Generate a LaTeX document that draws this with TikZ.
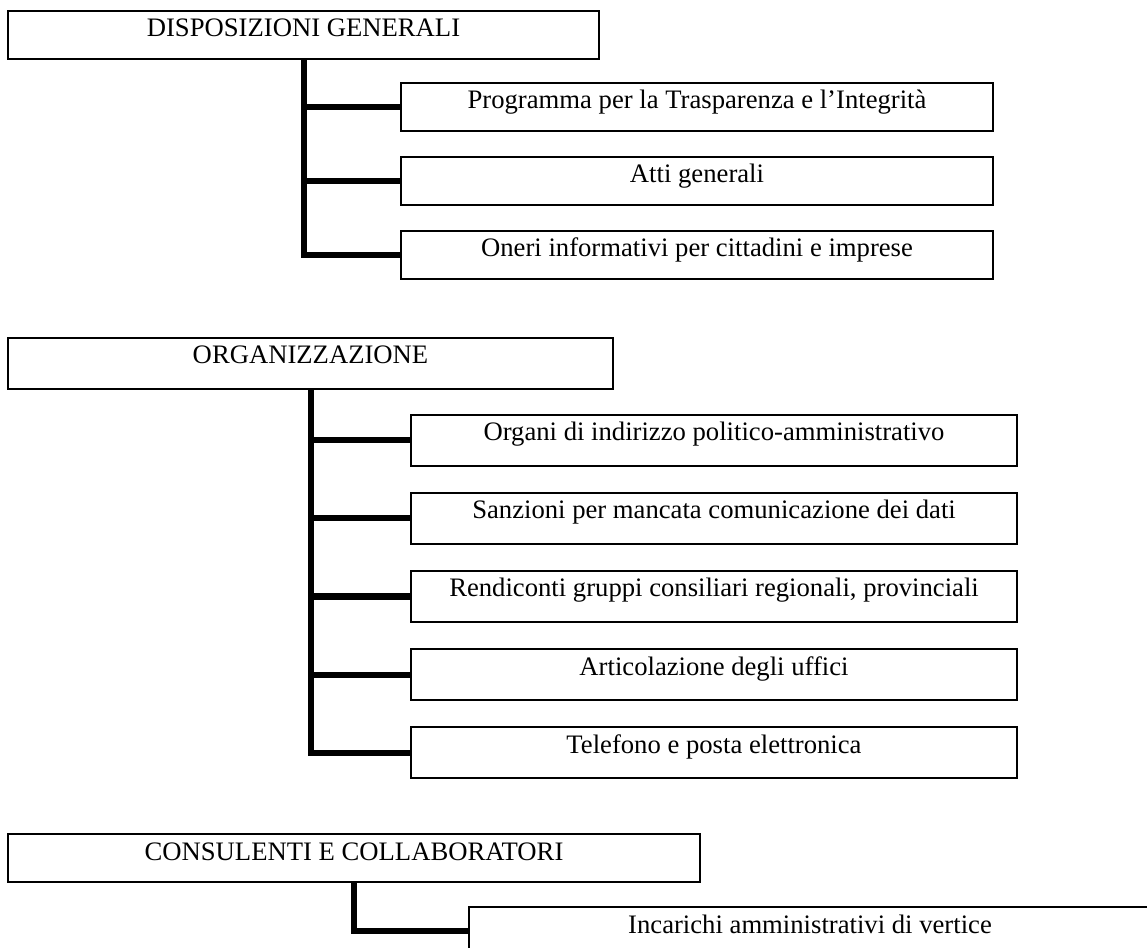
\documentclass[tikz,border=0pt]{standalone}
\usepackage{fontspec}
\setmainfont{Liberation Serif}
\usetikzlibrary{positioning}

\begin{document}
\begin{tikzpicture}[x=0.45pt,y=-0.45pt,
  head/.style={draw,line width=0.9pt,inner sep=0pt,anchor=north west,text height=11.7pt,text depth=9.9pt,font=\fontsize{12}{14}\selectfont},
  tall/.style={text depth=11.25pt},
  item/.style={head,minimum width=266.4pt},
  trunk/.style={line width=2.7pt}
]
\useasboundingbox (0,0) rectangle (1147,948);
% disposizioni generali
\node[head,minimum width=265.95pt] (disp) at (7,10) {DISPOSIZIONI GENERALI};
\node[item] (disp1) at (400,82) {Programma per la Trasparenza e l’Integrità};
\node[item,below=10.8pt of disp1] (disp2) {Atti generali};
\node[item,below=10.8pt of disp2] (disp3) {Oneri informativi per cittadini e imprese};
\draw[trunk] (disp.south) |- (disp3.west);
\foreach \n in {disp1,disp2} \draw[trunk] (disp.south |- \n.west) -- (\n.west);
% organizzazione
\node[head,tall,minimum width=272.25pt] (org) at (7,337) {ORGANIZZAZIONE};
\node[item,tall,minimum width=272.7pt] (org1) at (410,414) {Organi di indirizzo politico-amministrativo};
\node[item,tall,minimum width=272.7pt,below=11.25pt of org1] (org2) {Sanzioni per mancata comunicazione dei dati};
\node[item,tall,minimum width=272.7pt,below=11.25pt of org2] (org3) {Rendiconti gruppi consiliari regionali, provinciali};
\node[item,tall,minimum width=272.7pt,below=11.25pt of org3] (org4) {Articolazione degli uffici};
\node[item,tall,minimum width=272.7pt,below=11.25pt of org4] (org5) {Telefono e posta elettronica};
\draw[trunk] (org.south) |- (org5.west);
\foreach \n in {org1,org2,org3,org4} \draw[trunk] (org.south |- \n.west) -- (\n.west);
% consulenti e collaboratori
\node[head,minimum width=311.4pt] (cons) at (7,833) {CONSULENTI E COLLABORATORI};
\node[head,minimum width=306.9pt] (cons1) at (468,906) {Incarichi amministrativi di vertice};
\draw[trunk] (cons.south) |- (cons1.west);
\end{tikzpicture}
\end{document}
